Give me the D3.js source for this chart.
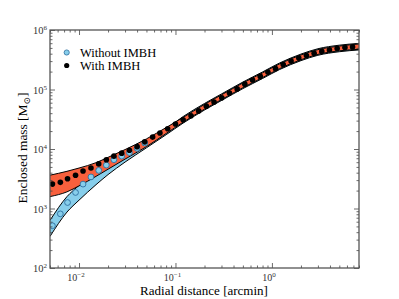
<!DOCTYPE html>
<html>
<head>
<meta charset="utf-8">
<script src="https://cdn.jsdelivr.net/npm/d3@7"></script>
<style>
  body { margin: 0; background: #fff; }
  svg { display: block; font-family: "Liberation Serif", "DejaVu Serif", serif; }
</style>
</head>
<body>
<div id="chart"></div>
<script>
// Rayons des points (arcmin)
const radius = [0.0053, 0.0064, 0.0076, 0.0092, 0.011, 0.0133, 0.016, 0.0192, 0.023, 0.0277,
  0.0333, 0.040, 0.048, 0.058, 0.069, 0.083, 0.100, 0.120, 0.145, 0.174,
  0.209, 0.251, 0.302, 0.363, 0.436, 0.524, 0.630, 0.757, 0.910, 1.09,
  1.31, 1.58, 1.90, 2.28, 2.74, 3.29, 3.95, 4.75, 5.72, 6.86];

// Masse enclose (M_sun)
const massWith = [2570, 2750, 3160, 3630, 4270, 4790, 5620, 6610, 7590, 8510,
  9550, 10960, 13200, 15850, 18620, 21880, 26300, 30900, 36300, 43650,
  52500, 61700, 72400, 87100, 102300, 123000, 144500, 166000, 195000, 224000,
  263000, 302000, 339000, 372000, 407000, 437000, 462000, 490000, 507000, 519000];
const massWithout = [513, 813, 1260, 1860, 2570, 3390, 4370, 5370, 6610, 7590,
  8710, 10230, 12600, 15500, 18620, 21880, 26300, 30900, 36300, 43650,
  52500, 61700, 72400, 87100, 102300, 123000, 144500, 166000, 195000, 224000,
  263000, 302000, 339000, 372000, 407000, 437000, 462000, 490000, 507000, 519000];

// Bandes d'incertitude
const bandRadius = [0.005, 0.0075, 0.01, 0.015, 0.02, 0.03, 0.05, 0.08, 0.12,
  0.2, 0.3, 0.5, 0.8, 1.2, 2, 3, 5, 8];
const withLow = [1585, 1905, 2399, 3467, 4571, 6761, 10960, 18200, 28180,
  46770, 67610, 107200, 158500, 223900, 316200, 389000, 446700, 473200];
const withHigh = [3631, 4217, 4786, 5888, 7244, 9772, 14790, 22910, 33880,
  56230, 81280, 128800, 190500, 269200, 380200, 467700, 537000, 582100];
const withoutLow = [339, 871, 1380, 2512, 3715, 6026, 10470, 17380, 27230,
  45190, 65310, 103500, 153100, 216300, 305500, 375800, 431500, 462400];
const withoutHigh = [631, 1585, 2455, 4571, 6457, 9333, 13800, 21880, 35080,
  58210, 84140, 133400, 197200, 278600, 393600, 484200, 555900, 595700];

const xTickExp = [-2, -1, 0];
const yTickExp = [2, 3, 4, 5, 6];
const seriesNames = ["Without IMBH", "With IMBH"];

function createMassPlot(selector) {
    const width = 399, height = 299;
    const margin = { top: 30, right: 40, bottom: 31, left: 50 };
    const innerWidth = width - margin.left - margin.right;
    const innerHeight = height - margin.top - margin.bottom;

    const root = d3.select(selector).append("svg")
        .attr("width", width)
        .attr("height", height);
    const svg = root.append("g")
        .attr("transform", `translate(${margin.left},${margin.top})`);

    const x = d3.scaleLog().domain([0.005, 8]).range([0, innerWidth]);
    const y = d3.scaleLog().domain([100, 1e6]).range([innerHeight, 0]);

    svg.append("clipPath").attr("id", "clip")
        .append("rect").attr("width", innerWidth).attr("height", innerHeight);
    const plot = svg.append("g").attr("clip-path", "url(#clip)");

    const idx = d3.range(bandRadius.length);
    function band(low, high, fill) {
        const area = d3.area()
            .x(i => x(bandRadius[i]))
            .y0(i => y(low[i]))
            .y1(i => y(high[i]))
            .curve(d3.curveMonotoneX);
        plot.append("path").datum(idx).attr("d", area).attr("fill", fill);
        [low, high].forEach(edge => {
            const line = d3.line()
                .x(i => x(bandRadius[i]))
                .y(i => y(edge[i]))
                .curve(d3.curveMonotoneX);
            plot.append("path").datum(idx).attr("d", line)
                .attr("fill", "none").attr("stroke", "#000").attr("stroke-width", 1);
        });
    }

    // Sans IMBH (bleu) puis avec IMBH (rouge)
    band(withoutLow, withoutHigh, "#87ceeb");
    band(withLow, withHigh, "#f8603d");
    plot.selectAll("circle.without")
        .data(radius.slice(0, 13))
        .join("circle")
        .attr("class", "without")
        .attr("cx", d => x(d))
        .attr("cy", (d, i) => y(massWithout[i]))
        .attr("r", 2.9)
        .attr("fill", "#87ceeb")
        .attr("stroke", "#2f6fa0")
        .attr("stroke-width", 0.9);

    plot.selectAll("circle.with")
        .data(radius)
        .join("circle")
        .attr("class", "with")
        .attr("cx", d => x(d))
        .attr("cy", (d, i) => y(massWith[i]))
        .attr("r", 2.8)
        .attr("fill", "#000");

    // Graduations vers l'intérieur sur les 4 côtés
    const isMajor = v => Math.abs(Math.log10(v) - Math.round(Math.log10(v))) < 1e-6;
    const xMinor = x.ticks().filter(v => !isMajor(v));
    const xMajor = xTickExp.map(e => Math.pow(10, e));
    const yMinor = y.ticks().filter(v => !isMajor(v));
    const yMajor = yTickExp.map(e => Math.pow(10, e));

    const axes = [
        [d3.axisBottom(x), `translate(0,${innerHeight})`, xMajor, xMinor],
        [d3.axisTop(x), null, xMajor, xMinor],
        [d3.axisLeft(y), null, yMajor, yMinor],
        [d3.axisRight(y), `translate(${innerWidth},0)`, yMajor, yMinor]
    ];
    axes.forEach(([axis, tr, major, minor]) => {
        [[major, -5], [minor, -2.5]].forEach(([vals, size]) => {
            const g = svg.append("g").call(axis.tickValues(vals).tickSize(size).tickFormat(""));
            if (tr) g.attr("transform", tr);
            g.select(".domain").remove();
            g.selectAll(".tick line").attr("stroke", "#444").attr("stroke-width", 0.8);
        });
    });

    svg.append("rect")
        .attr("width", innerWidth).attr("height", innerHeight)
        .attr("fill", "none").attr("stroke", "#555").attr("stroke-width", 1.3);

    // Étiquettes 10^n
    xTickExp.forEach(e => {
        const t = svg.append("text")
            .attr("x", x(Math.pow(10, e)) - 3)
            .attr("y", innerHeight + 12.5)
            .attr("text-anchor", "middle")
            .attr("fill", "#333")
            .style("font-size", "10px");
        t.append("tspan").text("10");
        t.append("tspan").attr("dy", -4).style("font-size", "7px")
            .text(e === 0 ? "0" : "\u2212" + Math.abs(e));
    });
    yTickExp.forEach(e => {
        const t = svg.append("text")
            .attr("x", -3)
            .attr("y", y(Math.pow(10, e)) + 4)
            .attr("text-anchor", "end")
            .attr("fill", "#333")
            .style("font-size", "10.5px");
        t.append("tspan").text("10");
        t.append("tspan").attr("dy", -4).style("font-size", "7px").text(e);
    });

    // Titres des axes
    root.append("text")
        .attr("x", margin.left + 154)
        .attr("y", 295)
        .attr("text-anchor", "middle")
        .style("font-size", "13px")
        .text("Radial distance [arcmin]");
    const yl = root.append("text")
        .attr("transform", "translate(27,148) rotate(-90)")
        .attr("text-anchor", "middle")
        .style("font-size", "13.4px");
    yl.append("tspan").text("Enclosed mass [M");
    yl.append("tspan").attr("dy", 3).style("font-size", "9px").text("\u2299");
    yl.append("tspan").attr("dy", -3).text("]");

    // Légende
    const legend = root.append("g");
    seriesNames.forEach((name, i) => {
        const cy = 52.5 + i * 13;
        legend.append("circle")
            .attr("cx", 66.7).attr("cy", cy).attr("r", 2.6)
            .attr("fill", i === 0 ? "#87ceeb" : "#000")
            .attr("stroke", i === 0 ? "#2f6fa0" : "none")
            .attr("stroke-width", 0.8);
        legend.append("text")
            .attr("x", 80).attr("y", cy + 4)
            .style("font-size", "12.5px")
            .text(name);
    });
}

createMassPlot("#chart");
</script>
</body>
</html>
